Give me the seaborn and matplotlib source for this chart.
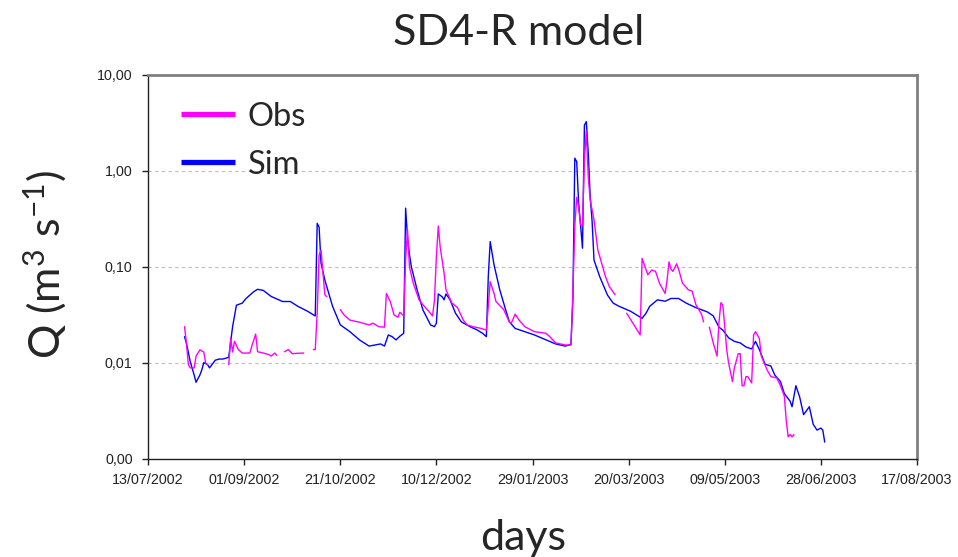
import numpy as np
import pandas as pd
import matplotlib
matplotlib.use("Agg")
import matplotlib.pyplot as plt
import matplotlib.ticker as mticker
from matplotlib.lines import Line2D
import seaborn as sns

# Daily discharge, days counted from 13/07/2002
START = "2002-07-13"

obs_day = [19, 20, 21, 22, 24, 25, 27, 29, 30, 31, 32,
           42, 43, 44, 45, 47, 49, 53, 54, 56, 57, 60, 63, 64, 66, 67, 68,
           71, 73, 75, 77, 81, 82,
           86, 87, 88, 89, 90, 91, 92, 93, 94,
           100, 102, 105, 110, 115, 117, 120, 123, 124, 126, 128, 130, 131, 133,
           134, 135, 136, 138, 141, 143, 146, 148, 149, 150, 151, 152, 154, 155,
           158, 161, 164, 166, 169, 173, 176, 177, 178, 180, 181, 185, 188, 189,
           191, 193, 196, 201, 207, 209, 212, 217, 220, 221, 222, 223, 224, 225,
           226, 227, 228, 229, 230, 232, 234, 238, 240, 243, 245,
           249, 256, 257, 260, 262, 264, 266, 269, 270, 271, 272, 273, 275, 276,
           278, 281, 283, 285, 288, 289, 290,
           292, 294, 296, 297, 298, 299, 300, 301, 302, 304, 305, 307, 308, 309,
           310, 311, 312, 314, 315, 316, 318, 319, 322, 324, 327, 329, 331, 332,
           333, 334, 335, 336]
obs_q = [0.0239, 0.016, 0.0096, 0.0089, 0.0089, 0.0118, 0.0137, 0.013, 0.010, 0.0096, np.nan,
         0.0096, 0.0183, 0.013, 0.0168, 0.0138, 0.0127, 0.0127, 0.015, 0.020, 0.0131, 0.0127,
         0.0122, 0.0118, 0.0127, 0.012, np.nan,
         0.0131, 0.0138, 0.0125, 0.0126, 0.0127, np.nan,
         0.0138, 0.0138, 0.0329, 0.133, 0.15, 0.0866, 0.0514, 0.049, np.nan,
         0.036, 0.0316, 0.028, 0.0266, 0.0249, 0.026, 0.0239, 0.0236, 0.053, 0.0437,
         0.0316, 0.030, 0.0338, 0.031,
         0.12, 0.243, 0.10, 0.0676, 0.0455, 0.0405, 0.0346, 0.0309, 0.045, 0.129,
         0.267, 0.16, 0.0866, 0.058,
         0.0423, 0.0377, 0.028, 0.0249, 0.0239, 0.023, 0.022, 0.039, 0.0703, 0.053,
         0.0437, 0.036, 0.0266, 0.026,
         0.0323, 0.028, 0.0239, 0.0212, 0.0204, 0.0188, 0.0162, 0.0154, 0.0154, 0.053,
         0.267, 0.532, 0.425, 0.274,
         0.27, 1.3, 2.6, 0.87, 0.5, 0.31, 0.15, 0.079, 0.0623, 0.0514, np.nan,
         0.033, 0.0196, 0.123, 0.083, 0.093, 0.09, 0.068, 0.053, 0.073, 0.113, 0.0956,
         0.09, 0.108, 0.095,
         0.068, 0.058, 0.056, 0.0405, 0.032, 0.0268, np.nan,
         0.0236, 0.0162, 0.0118, 0.0268, 0.0425, 0.040, 0.0239, 0.0138, 0.010, 0.0064,
         0.0089, 0.0125, 0.0125, 0.0058,
         0.0058, 0.0072, 0.0072, 0.0062, 0.0196, 0.0212, 0.018, 0.0118, 0.0085, 0.0072,
         0.007, 0.0058, 0.0045, 0.0025,
         0.0017, 0.0018, 0.0017, 0.0018]

sim_day = [19, 20, 22, 24, 25, 27, 28, 29, 31, 32, 35, 37, 39, 41, 42, 44, 46, 49, 51,
           55, 57, 60, 64, 70, 74, 78, 83, 87, 88, 89, 90, 92, 96, 100, 105, 110, 115,
           121, 123, 125, 127, 129, 131, 133, 134, 135, 136, 137, 140, 143, 147, 149,
           150, 151, 153, 154, 155, 157, 160, 163, 168, 171, 174, 176, 177, 178, 180,
           183, 186, 188, 191, 196, 201, 207, 212, 217, 220, 221, 222, 223, 224, 225,
           226, 227, 228, 229, 230, 231, 232, 235, 239, 242, 245, 251, 257, 259, 261,
           265, 269, 272, 276, 280, 285, 291, 294, 297, 299, 302, 305, 308, 311, 314,
           316, 318, 321, 324, 326, 329, 331, 334, 335, 337, 339, 341, 344, 346, 348,
           350, 351, 352]
sim_q = [0.0188, 0.016, 0.0103, 0.0075, 0.0063, 0.0075, 0.0085, 0.0101, 0.0096, 0.0089,
         0.0107, 0.011, 0.011, 0.0113, 0.0115, 0.0239, 0.040, 0.042, 0.047, 0.0553, 0.0586,
         0.057, 0.0494, 0.0437, 0.0437, 0.0389, 0.0346, 0.0309, 0.285, 0.26, 0.11, 0.073,
         0.039, 0.025, 0.0212, 0.0174, 0.015, 0.0158, 0.015, 0.0196, 0.0188, 0.0174, 0.019,
         0.0204, 0.41, 0.20, 0.135, 0.10, 0.0576, 0.0357, 0.0249, 0.0239, 0.026, 0.0524,
         0.049, 0.0455, 0.0524, 0.046, 0.0329, 0.0268, 0.0236, 0.0222, 0.0204, 0.0188,
         0.0794, 0.184, 0.105, 0.0576, 0.036, 0.0268, 0.0229, 0.0212, 0.0196, 0.0174,
         0.0158, 0.015, 0.0156, 0.0455, 1.36, 1.25, 0.46, 0.274, 0.157, 3.0, 3.27, 1.53,
         0.55, 0.30, 0.118, 0.079, 0.051, 0.042, 0.039, 0.0346, 0.0292, 0.0329, 0.039,
         0.0455, 0.044, 0.047, 0.047, 0.042, 0.0377, 0.034, 0.031, 0.0236, 0.022, 0.0183,
         0.0168, 0.0162, 0.0147, 0.014, 0.0168, 0.0138, 0.0097, 0.0093, 0.0075, 0.0064,
         0.0048, 0.004, 0.0035, 0.0058, 0.0044, 0.0029, 0.0035, 0.0023, 0.002, 0.0021,
         0.002, 0.0015]

tick_day = [0, 50, 100, 150, 200, 250, 300, 350, 400]
y_ticks = [0.001, 0.01, 0.1, 1, 10]
y_labels = ["0,00", "0,01", "0,10", "1,00", "10,00"]
colors = {"Obs": "#FF00FF", "Sim": "#0000FF"}


def to_frame(days, q, name):
    d = pd.DataFrame({"day": days, "Q": q})
    d["segment"] = name + d["Q"].isna().cumsum().astype(str)
    d = d.dropna(subset=["Q"]).copy()
    d["date"] = pd.Timestamp(START) + pd.to_timedelta(d["day"], unit="D")
    d["series"] = name
    return d


df = pd.concat([to_frame(sim_day, sim_q, "Sim"), to_frame(obs_day, obs_q, "Obs")],
               ignore_index=True)

sns.set_style("white")
plt.rcParams["font.family"] = ["Lato", "DejaVu Sans"]
plt.rcParams["mathtext.fontset"] = "custom"
plt.rcParams["mathtext.rm"] = "Lato"
plt.rcParams["mathtext.it"] = "Lato:italic"

fig = plt.figure(figsize=(9.58, 5.57), dpi=100)
ax = fig.add_axes([148 / 958, 1 - 459 / 557, (917 - 148) / 958, (459 - 75) / 557])

sns.lineplot(data=df, x="date", y="Q", hue="series", units="segment", estimator=None,
             palette=colors, linewidth=1.0, legend=False, ax=ax)

ax.set_yscale("log")
ax.set_ylim(0.001, 10)
ax.set_yticks(y_ticks)
ax.set_yticklabels(y_labels)
ax.yaxis.set_minor_locator(mticker.NullLocator())

tick_dates = [pd.Timestamp(START) + pd.Timedelta(days=d) for d in tick_day]
ax.set_xlim(tick_dates[0], tick_dates[-1])
ax.set_xticks(tick_dates)
ax.set_xticklabels([t.strftime("%d/%m/%Y") for t in tick_dates])
ax.xaxis.set_minor_locator(mticker.NullLocator())

for lab in ax.get_xticklabels() + ax.get_yticklabels():
    lab.set_fontfamily("Liberation Sans")
    lab.set_fontsize(10.3)
    lab.set_color("#222222")

ax.tick_params(axis="both", which="major", direction="out", length=4, width=1,
               color="#222222", bottom=True, left=True)
ax.tick_params(axis="x", pad=6)
ax.tick_params(axis="y", pad=7)
ax.set_xlabel("")
ax.set_ylabel("")

ax.grid(axis="y", which="major", linestyle=(0, (3, 3)), color="#bdbdbd", linewidth=0.8)
ax.grid(axis="x", visible=False)

for side in ("left", "bottom"):
    ax.spines[side].set_color("#222222")
    ax.spines[side].set_linewidth(1.0)
for side in ("top", "right"):
    ax.spines[side].set_color("#808080")
    ax.spines[side].set_linewidth(2.0)

handles = [Line2D([], [], color=colors["Obs"], linewidth=3.8, solid_capstyle="butt"),
           Line2D([], [], color=colors["Sim"], linewidth=3.8, solid_capstyle="butt")]
ax.legend(handles, ["Obs", "Sim"], loc="upper left", bbox_to_anchor=(0.013, 0.99),
          frameon=False, fontsize=23.5, handlelength=1.65, handletextpad=0.4,
          labelspacing=0.55, borderaxespad=0.3)

fig.text(519 / 958, 1 - 33 / 557, "SD4-R model", ha="center", va="center", fontsize=31)
fig.text(523 / 958, 1 - 538 / 557, "days", ha="center", va="center", fontsize=31)
fig.text(45 / 958, 1 - 265 / 557, r"Q (m$^{3}$ s$^{-1}$)", ha="center", va="center",
         rotation=90, fontsize=31)

fig.savefig("out.png", dpi=100)
